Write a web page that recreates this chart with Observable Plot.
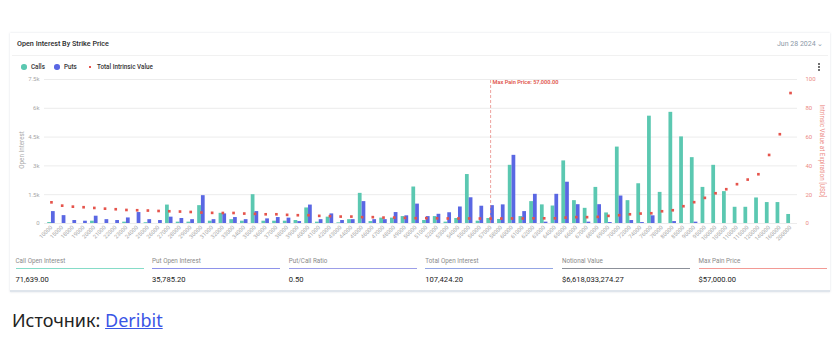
<!DOCTYPE html>
<html>
<head>
<meta charset="utf-8">
<script src="https://cdn.jsdelivr.net/npm/d3@7"></script>
<script src="https://cdn.jsdelivr.net/npm/@observablehq/plot@0.6"></script>
<style>
  html, body { margin: 0; padding: 0; background: #fff; }
  body { width: 838px; height: 352px; position: relative; overflow: hidden; font-family: Roboto, "Noto Sans", sans-serif; }
  .abs { position: absolute; white-space: nowrap; }
  #card { position: absolute; left: 10px; top: 33px; width: 820px; height: 257px; background: #fff;
          box-shadow: 0 0 2px rgba(60,80,110,0.18); border-bottom: 2px solid #dfe5ec; }
  #title { left: 17px; top: 39px; font-size: 7.2px; font-weight: 500; color: #2c2c2c; }
  #date { left: 777px; top: 40px; font-size: 7px; color: #8c99a8; }
  #divider { left: 12px; top: 55px; width: 816px; height: 1px; background: #f1f1f1; }
  .leg { top: 63px; font-size: 6.3px; font-weight: 500; color: #333; }
  .ldot { position: absolute; top: 64px; width: 5.5px; height: 5.5px; border-radius: 50%; }
  .kdot { position: absolute; left: 818px; width: 1.6px; height: 1.6px; border-radius: 50%; background: #555; }
  #chart { position: absolute; left: 0; top: 70px; }
  .ytitle { font-size: 6.3px; color: #a8a8a8; }
  .stat-l { top: 257px; font-size: 6.3px; color: #8a8a8a; }
  .stat-line { position: absolute; top: 267.5px; width: 128px; height: 1.3px; }
  .stat-v { top: 275px; font-size: 7.6px; color: #222; }
  #source { left: 12px; top: 308px; font-family: "Noto Sans", "Open Sans", sans-serif; font-size: 18px; color: #222; }
  #source a { color: #3a55e6; text-decoration: underline; }
</style>
</head>
<body>
<div id="card"></div>
<div id="divider" class="abs"></div>
<div id="title" class="abs">Open Interest By Strike Price</div>
<div id="date" class="abs">Jun 28 2024 &#x2304;</div>
<div class="kdot" style="top:63px"></div>
<div class="kdot" style="top:66px"></div>
<div class="kdot" style="top:69px"></div>
<div id="legend"></div>
<div id="chart"></div>
<div id="ytl" class="abs ytitle" style="left:22px;top:150px;transform:translate(-50%,-50%) rotate(-90deg);">Open Interest</div>
<div id="ytr" class="abs ytitle" style="left:822px;top:151px;color:#ec8a84;transform:translate(-50%,-50%) rotate(90deg);">Intrinsic Value at Expiration [USD]</div>
<div id="stats"></div>
<div id="source" class="abs">Источник: <a href="#">Deribit</a></div>
<script>
const strikes = ["10000","15000","18000","19000","20000","21000","22000","23000","24000","25000",
  "26000","27000","28000","29000","30000","31000","32000","33000","34000","35000",
  "36000","37000","38000","39000","40000","41000","42000","43000","44000","45000",
  "46000","47000","48000","49000","50000","51000","52000","53000","54000","55000",
  "56000","57000","58000","60000","61000","62000","63000","64000","65000","66000",
  "67000","68000","69000","70000","72000","74000","76000","78000","80000","85000",
  "90000","95000","100000","105000","110000","115000","120000","140000","160000","200000"];
const calls = [50,0,0,0,120,0,0,70,0,40,
  0,960,70,70,930,120,530,200,120,1500,
  120,120,120,155,810,70,330,35,200,1570,
  100,280,280,360,1900,155,360,70,260,2550,
  120,260,210,3030,360,1140,970,910,3260,1190,
  790,1880,550,3980,1190,2070,5590,1620,5790,4510,
  3430,1880,3030,1660,845,845,1330,1090,1090,470];
const puts = [620,410,155,120,380,200,155,290,570,200,
  155,330,260,200,1450,200,500,310,200,620,
  240,310,280,100,960,200,500,155,200,1140,
  200,200,570,400,1010,360,480,560,860,1340,
  900,930,970,3550,620,1520,70,1520,2150,980,
  70,980,50,1430,155,50,400,0,100,0,
  70,0,0,0,0,0,0,0,0,0];
const intrinsic = [14.7,12.4,11.7,11.3,10.8,10.3,9.9,9.4,9.2,9.0,
  8.7,8.5,8.3,8.0,7.6,7.4,7.3,7.3,6.9,6.7,
  6.4,6.4,6.0,5.75,5.75,5.3,5.06,4.8,4.8,4.4,
  4.4,4.1,4.1,3.9,3.7,3.7,3.6,3.5,3.5,3.5,
  3.45,3.45,3.45,3.5,3.5,3.6,3.6,3.6,4.1,4.4,
  4.4,4.6,5.3,5.75,6.4,6.9,7.1,8.5,9.2,12.0,
  14.8,17.8,21.0,23.8,27.3,30.5,34.2,47.6,62.0,90.6];
const leftTicks = [0,1500,3000,4500,6000,7500];
const rightTicks = [0,20,40,60,80,100];
const maxPain = "57000";
const maxPainLabel = "Max Pain Price: 57,000.00";
const statLabels = ["Call Open Interest","Put Open Interest","Put/Call Ratio","Total Open Interest","Notional Value","Max Pain Price"];
const statValues = ["71,639.00","35,785.20","0.50","107,424.20","$6,618,033,274.27","$57,000.00"];
const statColors = ["#86dcc8","#8e93ea","#9c9ee8","#93a5e4","#8c9099","#f29a95"];
const legendItems = ["Calls","Puts","Total Intrinsic Value"];

const TEAL = "#5bc8b1", BLUE = "#5a67e3", RED = "#e5544c";
const ratio = 7500 / 100; // right axis maps 0..100 onto 0..7500

const rows = strikes.map((s, i) => ({strike: s, calls: calls[i], puts: puts[i], iv: intrinsic[i]}));

const W = 838, H = 180, ML = 44, MR = 41;
const step = (W - ML - MR) / (strikes.length - 0.3 + 0.6);
const half = step * 0.7 / 2;

const chart = Plot.plot({
  width: W, height: H,
  marginLeft: ML, marginRight: MR, marginTop: 9, marginBottom: 27,
  style: {fontFamily: "Roboto, sans-serif", fontSize: "6px", background: "transparent", overflow: "visible"},
  x: {type: "band", domain: strikes, padding: 0.3, label: null},
  y: {domain: [0, 7500], label: null},
  marks: [
    Plot.gridY({ticks: leftTicks, stroke: "#ececec", strokeOpacity: 1}),
    Plot.barY(rows, {x: "strike", y: "calls", fill: TEAL, insetRight: half}),
    Plot.barY(rows, {x: "strike", y: "puts", fill: BLUE, insetLeft: half}),
    Plot.ruleX([maxPain], {x: d => d, y1: 0, y2: 7500, stroke: "#e88a84", strokeWidth: 0.8, strokeDasharray: "3,2"}),
    Plot.text([maxPain], {x: d => d, y: 7500, text: () => maxPainLabel, textAnchor: "start", dx: 2, dy: 3, fill: "#e0544b", fontWeight: 600, fontSize: 5.6}),
    Plot.dot(rows, {x: "strike", y: d => d.iv * ratio, symbol: "square", r: 1.5, fill: RED, stroke: "none"}),
    Plot.axisY({ticks: leftTicks, anchor: "left", tickSize: 0, tickPadding: 5, label: null,
      tickFormat: d => d === 0 ? "0" : (d / 1000) + "k", fill: "#a8a8a8", fontSize: 6}),
    Plot.axisY({ticks: rightTicks.map(v => v * ratio), anchor: "right", tickSize: 0, tickPadding: 8, label: null,
      tickFormat: d => String(Math.round(d / ratio)), fill: "#ec8a84", fontSize: 6}),
    Plot.axisX({anchor: "bottom", tickSize: 0, tickPadding: 3, tickRotate: -45, label: null, fill: "#a8a8a8", fontSize: 5.6})
  ]
});
document.getElementById("chart").appendChild(chart);

// legend
const leg = document.getElementById("legend");
const legX = [[24, 31, TEAL, "circle"], [57, 64, BLUE, "circle"], [90, 97, RED, "square"]];
legendItems.forEach((t, i) => {
  const [cx, tx, col, shape] = legX[i];
  const d = document.createElement("div");
  d.className = "ldot";
  if (shape === "square") {
    d.style.cssText = `left:${cx - 1}px;top:65.5px;width:2.2px;height:2.2px;border-radius:0;background:${col}`;
  } else {
    d.style.cssText = `left:${cx - 2.75}px;background:${col}`;
  }
  leg.appendChild(d);
  const s = document.createElement("div");
  s.className = "abs leg";
  s.style.left = tx + "px";
  s.textContent = t;
  leg.appendChild(s);
});

// stats
const st = document.getElementById("stats");
statLabels.forEach((t, i) => {
  const x = 15.5 + i * 136.6;
  const l = document.createElement("div");
  l.className = "abs stat-l"; l.style.left = x + "px"; l.textContent = t; st.appendChild(l);
  const ln = document.createElement("div");
  ln.className = "stat-line"; ln.style.left = x + "px"; ln.style.background = statColors[i]; st.appendChild(ln);
  const v = document.createElement("div");
  v.className = "abs stat-v"; v.style.left = x + "px"; v.textContent = statValues[i]; st.appendChild(v);
});
</script>
</body>
</html>
